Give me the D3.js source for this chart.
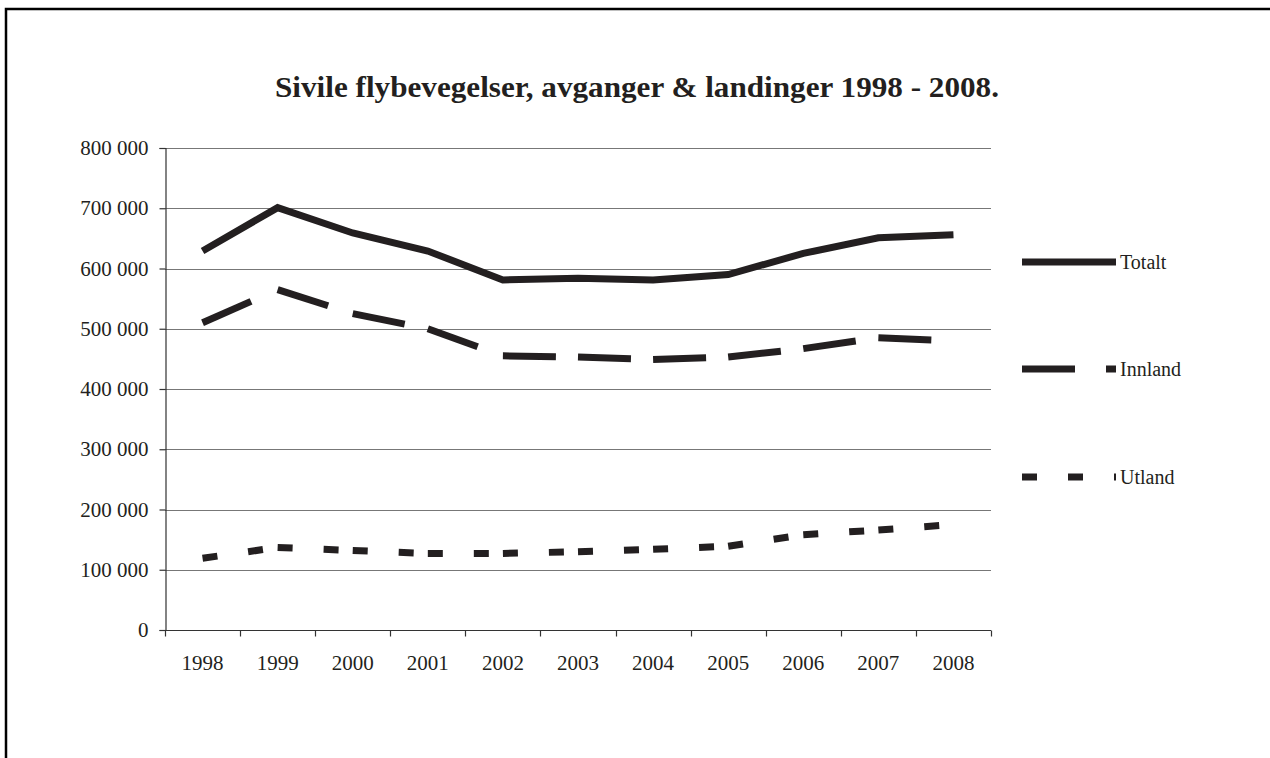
<!DOCTYPE html>
<html>
<head>
<meta charset="utf-8">
<script src="https://cdn.jsdelivr.net/npm/d3@7"></script>
<style>
  html, body { margin: 0; padding: 0; background: #fff; overflow: hidden; }
  svg { display: block; }
  text { font-family: "Liberation Serif", "DejaVu Serif", serif; fill: #231f20; }
</style>
</head>
<body>
<svg id="chart" width="1270" height="758"></svg>
<script>
// Civil aircraft movements (departures & landings), 1998–2008
const years = ["1998","1999","2000","2001","2002","2003","2004","2005","2006","2007","2008"];
const totalt  = [629000, 701000, 659000, 629000, 581000, 584000, 581000, 590000, 625000, 651000, 656000];
const innland = [510000, 565000, 525000, 500000, 455000, 453000, 449000, 453000, 467000, 485000, 480000];
const utland  = [119000, 137000, 132000, 127000, 127000, 130000, 134000, 139000, 158000, 166000, 175000];
const yTicks  = [0, 100000, 200000, 300000, 400000, 500000, 600000, 700000, 800000];
const seriesNames = ["Totalt", "Innland", "Utland"];

const ink = "#231f20";
const svg = d3.select("#chart");

// outer frame
svg.append("rect")
  .attr("x", 6).attr("y", 9)
  .attr("width", 1400).attr("height", 900)
  .attr("fill", "none").attr("stroke", "#000").attr("stroke-width", 2.5);

const plot = { left: 165, right: 991, top: 148, bottom: 630 };

const x = d3.scaleBand().domain(years).range([plot.left, plot.right]).padding(0);
const y = d3.scaleLinear().domain([0, 800000]).range([plot.bottom, plot.top]);
const cx = yr => x(yr) + x.bandwidth() / 2;

const fmt = v => v === 0 ? "0" : d3.format(",")(v).replace(/,/g, " ");

// horizontal gridlines
svg.append("g")
  .selectAll("line")
  .data(yTicks.filter(v => v > 0))
  .join("line")
  .attr("x1", plot.left).attr("x2", plot.right)
  .attr("y1", d => Math.round(y(d)) + 0.5).attr("y2", d => Math.round(y(d)) + 0.5)
  .attr("stroke", "#777").attr("stroke-width", 1.2);

// y axis
const yAxis = svg.append("g")
  .attr("transform", `translate(${plot.left + 0.5},0)`)
  .call(d3.axisLeft(y).tickValues(yTicks).tickFormat(fmt).tickSize(6).tickPadding(11));
yAxis.select(".domain").attr("stroke", "#333").attr("stroke-width", 1.2);
yAxis.selectAll(".tick line").attr("stroke", "#333").attr("stroke-width", 1.2);
yAxis.selectAll("text").attr("font-size", 21).attr("fill", ink)
  .attr("font-family", "Liberation Serif, serif");

// x axis: ticks on category boundaries, labels centred in the bands
const xAxisG = svg.append("g").attr("transform", `translate(0,${plot.bottom + 0.5})`);
xAxisG.append("line")
  .attr("x1", plot.left).attr("x2", plot.right)
  .attr("stroke", "#333").attr("stroke-width", 1.2);
const boundaries = years.map(yr => x(yr)).concat([plot.right]);
xAxisG.selectAll("line.tk")
  .data(boundaries)
  .join("line").attr("class", "tk")
  .attr("x1", d => Math.round(d) + 0.5).attr("x2", d => Math.round(d) + 0.5)
  .attr("y1", 0).attr("y2", 6)
  .attr("stroke", "#333").attr("stroke-width", 1.2);
xAxisG.selectAll("text")
  .data(years)
  .join("text")
  .attr("x", d => cx(d)).attr("y", 39)
  .attr("text-anchor", "middle")
  .attr("font-size", 21)
  .text(d => d);

// title
svg.append("text")
  .attr("x", 637).attr("y", 97)
  .attr("text-anchor", "middle")
  .attr("font-size", 29).attr("font-weight", "bold")
  .attr("textLength", 724).attr("lengthAdjust", "spacingAndGlyphs")
  .text("Sivile flybevegelser, avganger & landinger 1998 - 2008.");

const lineW = 7;

// Totalt: solid line
const line = d3.line().x((d, i) => cx(years[i])).y(d => y(d));
svg.append("path")
  .datum(totalt)
  .attr("d", line)
  .attr("fill", "none").attr("stroke", ink)
  .attr("stroke-width", lineW).attr("stroke-linejoin", "miter");

// dashed series: dash pattern restarts at every data point
function dashedSeries(values, dash) {
  const pts = values.map((v, i) => [cx(years[i]), y(v)]);
  svg.append("g")
    .selectAll("path")
    .data(d3.pairs(pts))
    .join("path")
    .attr("d", d => d3.line()(d))
    .attr("fill", "none").attr("stroke", ink)
    .attr("stroke-width", lineW).attr("stroke-linecap", "butt")
    .attr("stroke-dasharray", dash);
}
dashedSeries(innland, "53,31");
dashedSeries(utland, "15,31");

// legend
const legendY = [262, 369, 477];
const legendDash = [null, "53,31", "15,31"];
const lg = svg.append("g");
seriesNames.forEach((name, i) => {
  lg.append("line")
    .attr("x1", 1022).attr("x2", 1116)
    .attr("y1", legendY[i]).attr("y2", legendY[i])
    .attr("stroke", ink).attr("stroke-width", lineW)
    .attr("stroke-dasharray", legendDash[i]);
  lg.append("text")
    .attr("x", 1120).attr("y", legendY[i] + 7)
    .attr("font-size", 20)
    .text(name);
});
</script>
</body>
</html>
